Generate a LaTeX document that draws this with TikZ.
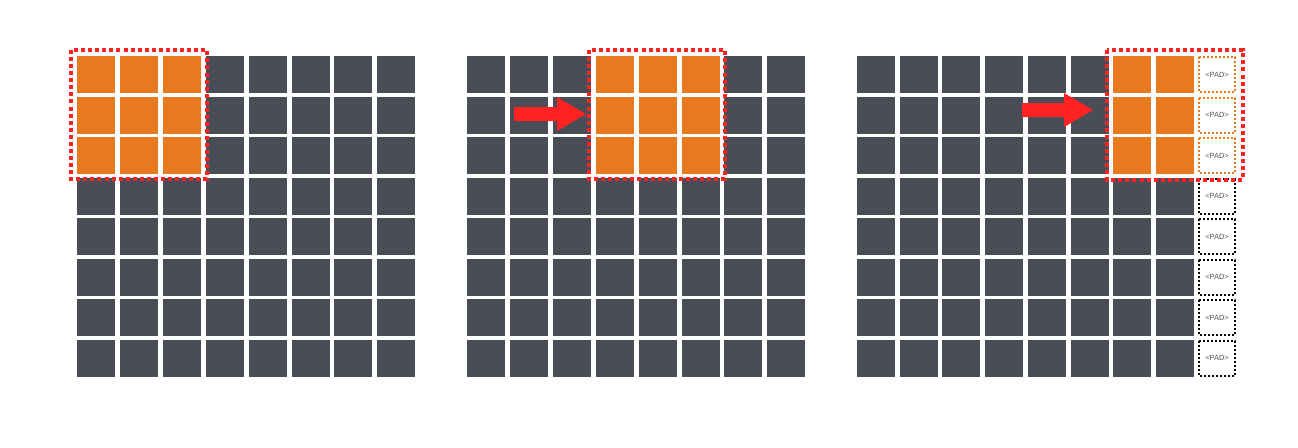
\documentclass[tikz,border=0pt]{standalone}
\usepackage{fontspec}
\setsansfont{Liberation Sans}
\definecolor{cellgray}{HTML}{494D55}
\definecolor{cellorange}{HTML}{E77A1E}
\definecolor{framered}{HTML}{FF2222}
\definecolor{padtext}{HTML}{555555}
\begin{document}
\begin{tikzpicture}[x=0.75pt,y=-0.75pt,
  graycell/.style={fill=cellgray},
  orangecell/.style={fill=cellorange},
  redframe/.style={draw=framered,line width=2.3pt,dash pattern=on 3pt off 2.3pt},
  padcell/.style={draw=#1,line width=1.5pt,dash pattern=on 1.5pt off 1.5pt,fill=white},
  padlabel/.style={font=\sffamily\fontsize{5.6}{6.5}\selectfont,text=padtext},
  bigarrow/.style={fill=framered}]
\useasboundingbox (0,0) rectangle (1298,447);
% grid 1
\foreach \j in {0,...,7}{
  \foreach \i in {0,...,7}{
    \pgfmathsetmacro\xx{77+42.9*\j}
    \pgfmathsetmacro\yy{56+40.5*\i}
    \pgfmathtruncatemacro\isor{(\j<3)&&(\i<3)}
    \ifnum\isor=1
      \fill[orangecell] (\xx,\yy) rectangle ++(38,37);
    \else
      \fill[graycell] (\xx,\yy) rectangle ++(38,37);
    \fi
  }
}
\draw[redframe] (71,50) rectangle (207,179);
% grid 2
\foreach \j in {0,...,7}{
  \foreach \i in {0,...,7}{
    \pgfmathsetmacro\xx{467+42.9*\j}
    \pgfmathsetmacro\yy{56+40.5*\i}
    \pgfmathtruncatemacro\isor{(\j>2)&&(\j<6)&&(\i<3)}
    \ifnum\isor=1
      \fill[orangecell] (\xx,\yy) rectangle ++(38,37);
    \else
      \fill[graycell] (\xx,\yy) rectangle ++(38,37);
    \fi
  }
}
\draw[redframe] (589,50) rectangle (725,179);
\fill[bigarrow] (514,107) -- (557,107) -- (557,97) -- (586,114) -- (557,131) -- (557,121) -- (514,121) -- cycle;
% grid 3
\foreach \j in {0,...,7}{
  \foreach \i in {0,...,7}{
    \pgfmathsetmacro\xx{857+42.7*\j}
    \pgfmathsetmacro\yy{56+40.5*\i}
    \pgfmathtruncatemacro\isor{(\j>5)&&(\i<3)}
    \ifnum\isor=1
      \fill[orangecell] (\xx,\yy) rectangle ++(38,37);
    \else
      \fill[graycell] (\xx,\yy) rectangle ++(38,37);
    \fi
  }
}
\foreach \i in {0,...,7}{
  \pgfmathsetmacro\yy{57+40.5*\i}
  \pgfmathtruncatemacro\isor{\i<3}
  \ifnum\isor=1
    \draw[padcell=cellorange] (1199,\yy) rectangle ++(36,35);
  \else
    \draw[padcell=black] (1199,\yy) rectangle ++(36,35);
  \fi
  \node[padlabel] (pad\i) at (1217,\yy+17.5) {\textless PAD\textgreater};
}
\draw[redframe] (1107,50) rectangle (1243,180);
\fill[bigarrow] (1022,103) -- (1064,103) -- (1064,93) -- (1093,110) -- (1064,127) -- (1064,117) -- (1022,117) -- cycle;
\end{tikzpicture}
\end{document}
